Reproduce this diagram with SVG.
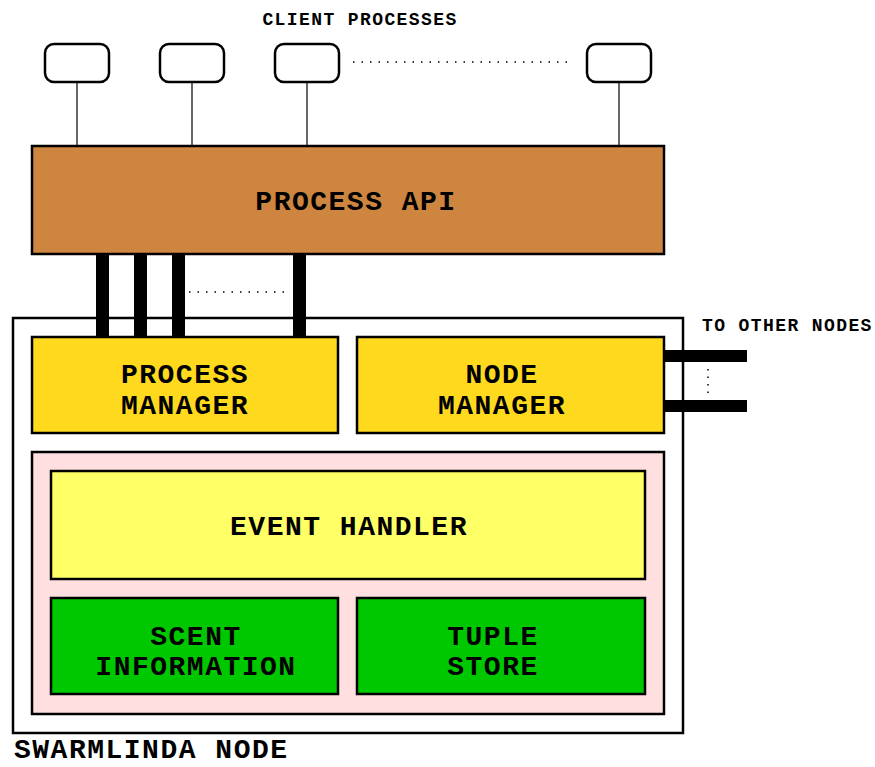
<svg xmlns="http://www.w3.org/2000/svg" width="875" height="767" viewBox="0 0 875 767">
<style>
text{font-family:"Liberation Mono","Courier New",monospace;font-weight:bold;fill:#000}
.big{font-size:28px;letter-spacing:1.5px}
.sm{font-size:18px;letter-spacing:1.4px}
.box{stroke:#000;stroke-width:2.5}
.client{fill:#fff;stroke:#000;stroke-width:2.5}
.wire{stroke:#000;stroke-width:1.2;fill:none}
.bar{fill:#000}
.dots{stroke:#000;stroke-width:1.5;stroke-dasharray:1.5 7;fill:none}
</style>
<rect width="875" height="767" fill="#fff"/>
<text class="sm" x="360" y="25" text-anchor="middle">CLIENT PROCESSES</text>
<g id="swarmlinda-node">
<rect class="box" x="13" y="318" width="670" height="415" fill="#fff"/>
<text class="big" x="14" y="758">SWARMLINDA NODE</text>
</g>
<g id="connectors">
<line class="wire" x1="77" y1="82" x2="77" y2="146"/>
<line class="wire" x1="192" y1="82" x2="192" y2="146"/>
<line class="wire" x1="307" y1="82" x2="307" y2="146"/>
<line class="wire" x1="619" y1="82" x2="619" y2="146"/>
<line class="dots" x1="353" y1="62" x2="572" y2="62"/>
<rect class="bar" x="96" y="254" width="13" height="84"/>
<rect class="bar" x="134" y="254" width="13" height="84"/>
<rect class="bar" x="172" y="254" width="13" height="84"/>
<rect class="bar" x="293" y="254" width="13" height="84"/>
<line class="dots" x1="189" y1="292" x2="290" y2="292"/>
<rect class="bar" x="664" y="350" width="83" height="12"/>
<rect class="bar" x="664" y="400" width="83" height="12"/>
<line class="dots" x1="708" y1="369" x2="708" y2="399" style="stroke-dasharray:1.5 6"/>
<text class="sm" x="702" y="331">TO OTHER NODES</text>
</g>
<g id="client1"><rect class="client" x="45" y="44" width="64" height="38" rx="9"/></g>
<g id="client2"><rect class="client" x="160" y="44" width="64" height="38" rx="9"/></g>
<g id="client3"><rect class="client" x="275" y="44" width="64" height="38" rx="9"/></g>
<g id="client4"><rect class="client" x="587" y="44" width="64" height="38" rx="9"/></g>
<g id="process-api">
<rect class="box" x="32" y="146" width="632" height="108" fill="#CD853F"/>
<text class="big" x="356" y="210" text-anchor="middle">PROCESS API</text>
</g>
<g id="process-manager">
<rect class="box" x="32" y="337" width="306" height="96" fill="#FFD91E"/>
<text class="big" x="185" y="383" text-anchor="middle">PROCESS</text>
<text class="big" x="185" y="414" text-anchor="middle">MANAGER</text>
</g>
<g id="node-manager">
<rect class="box" x="357" y="337" width="307" height="96" fill="#FFD91E"/>
<text class="big" x="502" y="383" text-anchor="middle">NODE</text>
<text class="big" x="502" y="414" text-anchor="middle">MANAGER</text>
</g>
<g id="core">
<rect class="box" x="32" y="452" width="632" height="262" fill="#FFDFDF"/>
</g>
<g id="event-handler">
<rect class="box" x="51" y="471" width="594" height="108" fill="#FFFF66"/>
<text class="big" x="349" y="535" text-anchor="middle">EVENT HANDLER</text>
</g>
<g id="scent-information">
<rect class="box" x="51" y="598" width="287" height="96" fill="#00C800"/>
<text class="big" x="196" y="645" text-anchor="middle">SCENT</text>
<text class="big" x="196" y="675" text-anchor="middle">INFORMATION</text>
</g>
<g id="tuple-store">
<rect class="box" x="357" y="598" width="288" height="96" fill="#00C800"/>
<text class="big" x="493" y="645" text-anchor="middle">TUPLE</text>
<text class="big" x="493" y="675" text-anchor="middle">STORE</text>
</g>
</svg>
